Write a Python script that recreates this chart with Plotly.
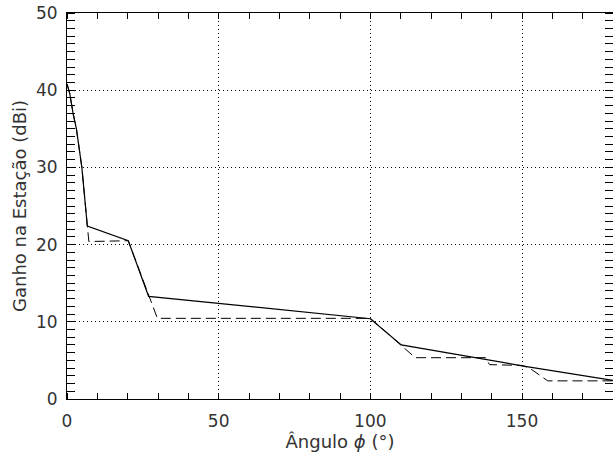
import plotly.graph_objects as go

# Solid curve (gain pattern)
solid_x = [0, 0.9, 2.0, 3.1, 4.9, 6.7, 20.2, 26.9, 100, 110.2, 150, 180]
solid_y = [40.8, 39.6, 37.0, 35.0, 30.0, 22.4, 20.5, 13.3, 10.4, 7.0, 4.3, 2.4]

# Dashed curve (step envelope)
dashed_x = [0, 0.9, 2.0, 3.1, 4.9, 6.7, 7.2, 20.2, 26.9, 29.8, 100, 110.2,
            114.8, 138, 139.3, 150, 152.5, 158.5, 180]
dashed_y = [40.8, 39.6, 37.0, 35.0, 30.0, 22.4, 20.4, 20.5, 13.3, 10.45, 10.45, 7.0,
            5.35, 5.35, 4.45, 4.35, 4.0, 2.35, 2.35]

x_ticks = [0, 50, 100, 150]
y_ticks = [0, 10, 20, 30, 40, 50]

TICKFONT = dict(family="DejaVu Sans", size=17, color="#333333")
TITLEFONT = dict(family="DejaVu Sans", size=18, color="#333333")

fig = go.Figure()
fig.add_trace(go.Scatter(x=dashed_x, y=dashed_y, mode="lines",
                         line=dict(color="black", width=1, dash="10px,5px"),
                         showlegend=False, hoverinfo="skip"))
fig.add_trace(go.Scatter(x=solid_x, y=solid_y, mode="lines",
                         line=dict(color="black", width=1.2),
                         showlegend=False, hoverinfo="skip"))

axis_common = dict(
    showline=True, linecolor="black", linewidth=1, mirror="allticks",
    showgrid=True, gridcolor="black", gridwidth=1, griddash="1px,3px",
    zeroline=False, ticks="", tickfont=TICKFONT,
)

fig.update_xaxes(
    range=[0, 180], tickvals=x_ticks, ticktext=[str(v) for v in x_ticks],
    minor=dict(dtick=10, tick0=0, ticks="inside", ticklen=6, tickcolor="black",
               tickwidth=1, showgrid=False),
    title=dict(text="Ângulo <i>ϕ</i> (°)", font=TITLEFONT, standoff=2),
    ticklabelstandoff=7,
    **axis_common,
)
fig.update_yaxes(
    range=[0, 50], tickvals=y_ticks, ticktext=[str(v) for v in y_ticks],
    minor=dict(dtick=1, tick0=0, ticks="inside", ticklen=8, tickcolor="black",
               tickwidth=1, showgrid=False),
    title=dict(text="Ganho na Estação (dBi)", font=TITLEFONT, standoff=4),
    ticklabelstandoff=5,
    **axis_common,
)

fig.update_layout(
    width=613, height=455,
    margin=dict(l=67, r=0, t=13, b=56),
    paper_bgcolor="white", plot_bgcolor="white",
    font=TICKFONT,
)

fig.write_html("out.html")
